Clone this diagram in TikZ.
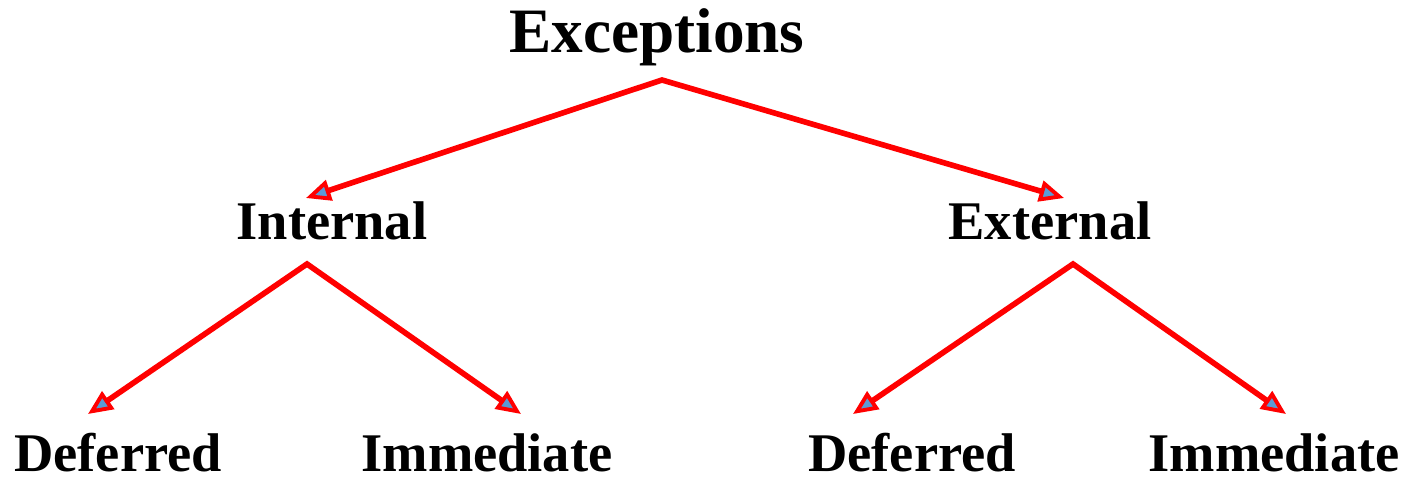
\documentclass[tikz,border=0pt]{standalone}
\usepackage{fontspec}
\setmainfont{Liberation Serif}
\usetikzlibrary{arrows.meta}
\definecolor{linkred}{RGB}{255,0,0}
\definecolor{tipblue}{RGB}{91,155,213}
\tikzset{
  lbl/.style={inner sep=0pt, anchor=base, font=\fontsize{31}{31}\selectfont\bfseries},
  ttl/.style={inner sep=0pt, anchor=base, font=\fontsize{36}{36}\selectfont\bfseries},
  tipshape/.tip={Triangle[length=14pt, width=12pt, line width=2.2pt, fill=tipblue]},
  branch/.style={draw=linkred, line width=3.2pt, line join=miter, tipshape-tipshape},
}
\begin{document}
\begin{tikzpicture}[x=0.02cm, y=-0.02cm]
  \useasboundingbox (0,0) rectangle (1418,477);

  % category labels
  \node[ttl] (exc) at (657,52) {Exceptions};
  \node[lbl] (int) at (332,239) {Internal};
  \node[lbl] (ext) at (1050,239) {External};
  \node[lbl] (idef) at (118,471) {Deferred};
  \node[lbl] (iimm) at (487,471) {Immediate};
  \node[lbl] (edef) at (912,471) {Deferred};
  \node[lbl] (eimm) at (1274,471) {Immediate};

  % branch apexes below each parent
  \coordinate (excA) at (662,80);
  \coordinate (intA) at (307,264);
  \coordinate (extA) at (1073,264);

  % arrow tips above each child
  \coordinate (intT) at (306,198);
  \coordinate (extT) at (1064,198);
  \coordinate (idefT) at (88,414);
  \coordinate (iimmT) at (521,414);
  \coordinate (edefT) at (853,414);
  \coordinate (eimmT) at (1286,414);

  \draw[branch] (intT) -- (excA) -- (extT);
  \draw[branch] (idefT) -- (intA) -- (iimmT);
  \draw[branch] (edefT) -- (extA) -- (eimmT);
\end{tikzpicture}
\end{document}
